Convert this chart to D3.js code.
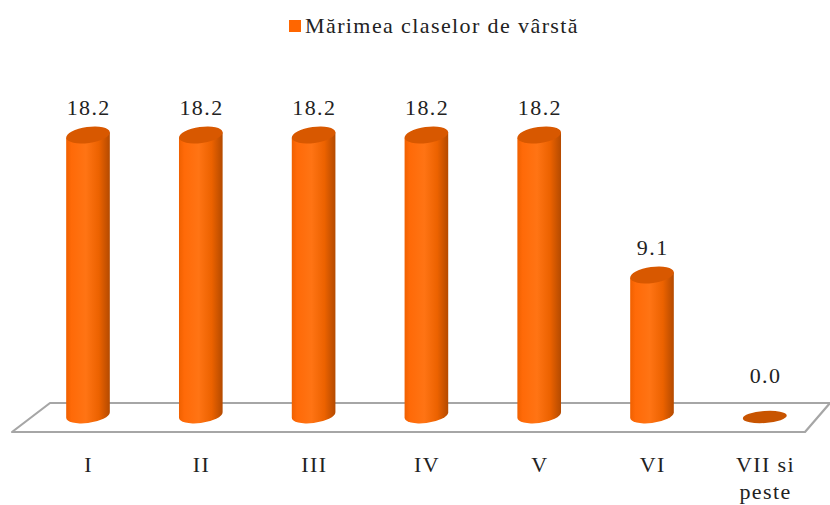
<!DOCTYPE html>
<html><head><meta charset="utf-8">
<script src="https://cdn.jsdelivr.net/npm/d3@7"></script>
<style>body{margin:0;background:#fff}svg{display:block}</style>
</head><body><svg id="c" width="830" height="505"></svg>
<script>
const categories = ["I","II","III","IV","V","VI","VII si\npeste"];
const values = [18.2,18.2,18.2,18.2,18.2,9.1,0.0];
const seriesName = "Mărimea claselor de vârstă";

const FONT = "'Liberation Serif','Times New Roman','DejaVu Serif',serif";
const LS = 1.4;
const svg = d3.select("#c");
const base=415;
const x = d3.scaleBand().domain(categories).range([31.6,821.2]).padding(0);
const y = d3.scaleLinear().domain([0,20]).range([base, base-307.7]);

const defs = svg.append("defs");
const g = defs.append("linearGradient").attr("id","body").attr("x1","0").attr("x2","1").attr("y1","0").attr("y2","0");
[[0,"#f06000"],[0.12,"#ff6a08"],[0.45,"#ff7414"],[0.75,"#ec6200"],[1,"#b44a00"]].forEach(s=>g.append("stop").attr("offset",s[0]).attr("stop-color",s[1]));

svg.append("path").attr("d","M50,403 L830,403 L805,432 L12,432 Z").attr("fill","#fff").attr("stroke","#a6a6a6").attr("stroke-width",2.2).attr("stroke-linejoin","round");

const rx=22, ry=8, phi=-8*Math.PI/180;
function pt(cx,cy,t){return [cx+rx*Math.cos(t)*Math.cos(phi)-ry*Math.sin(t)*Math.sin(phi), cy+rx*Math.cos(t)*Math.sin(phi)+ry*Math.sin(t)*Math.cos(phi)];}
const tR = Math.atan2(-ry*Math.sin(phi), rx*Math.cos(phi));
const tL = tR+Math.PI;
const deg = phi*180/Math.PI;

const bars = svg.append("g");
categories.forEach((c,i)=>{
  const v=values[i];
  const cx = x(c)+x.bandwidth()/2;
  const top = y(v);
  if(v>0){
    const bR=pt(cx,base,tR), bL=pt(cx,base,tL), uR=pt(cx,top,tR), uL=pt(cx,top,tL);
    const d=`M${uR[0]},${uR[1]} L${bR[0]},${bR[1]} A${rx},${ry} ${deg} 0 1 ${bL[0]},${bL[1]} L${uL[0]},${uL[1]} Z`;
    bars.append("path").attr("d",d).attr("fill","url(#body)");
    bars.append("ellipse").attr("cx",cx).attr("cy",top).attr("rx",rx).attr("ry",ry)
      .attr("transform",`rotate(${deg},${cx},${top})`).attr("fill","#d85800");
  } else {
    bars.append("ellipse").attr("cx",cx).attr("cy",base+2).attr("rx",rx).attr("ry",ry*0.75)
      .attr("transform",`rotate(${deg/2},${cx},${base+2})`).attr("fill","#c85400");
  }
  svg.append("text").attr("x",cx+LS/2).attr("y",(v>0?top:base-12)-20).attr("text-anchor","middle")
    .attr("font-family",FONT).attr("fill","#222").attr("font-size",22).attr("letter-spacing",LS).text(v.toFixed(1));
  const lines=c.split("\n");
  const t=svg.append("text").attr("x",cx).attr("y",472).attr("text-anchor","middle")
    .attr("font-family",FONT).attr("fill","#222").attr("font-size",22).attr("letter-spacing",LS);
  lines.forEach((l,j)=>t.append("tspan").attr("x",cx+LS/2).attr("dy",j?27:0).text(l));
});

svg.append("rect").attr("x",289).attr("y",20).attr("width",12).attr("height",12).attr("fill","#ff6600");
svg.append("text").attr("x",305).attr("y",33).attr("font-family",FONT).attr("fill","#222").attr("font-size",22).attr("letter-spacing",LS).text(seriesName);
</script></body></html>
